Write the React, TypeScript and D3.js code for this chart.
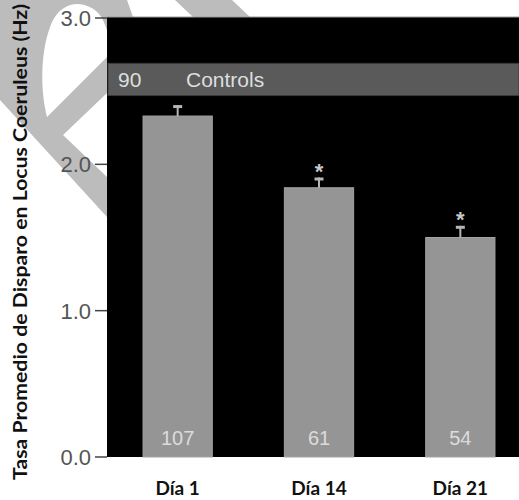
import React from "react";
import * as d3 from "d3";

const categories = ["Día 1", "Día 14", "Día 21"];
const meanRate = [2.33, 1.84, 1.5];
const semRate = [0.075, 0.07, 0.08];
const cellCounts = ["107", "61", "54"];
const significant = [false, true, true];
const controlBand = { low: 2.47, high: 2.69, n: "90", label: "Controls" };
const yTicks = [0, 1, 2, 3];
const yLabel = "Tasa Promedio de Disparo en Locus Coeruleus (Hz)";

const W = 519;
const H = 500;
const plotLeft = 107;
const plotRight = 519;
const plotTop = 17;
const plotBottom = 457;

export default function App() {
  const y = d3.scaleLinear().domain([0, 3]).range([plotBottom, 18]);
  const x = d3
    .scaleBand<string>()
    .domain(categories)
    .range([plotLeft, 531])
    .paddingInner(0.51)
    .paddingOuter(0.255);
  const bw = x.bandwidth();
  const wm = "#bcbcbc";
  const bandMid = (y(controlBand.high) + y(controlBand.low)) / 2;

  return (
    <svg
      width={W}
      height={H}
      style={{ position: "absolute", left: 0, top: 0, background: "#fff" }}
    >
      {/* watermark shapes */}
      <polygon
        points="0,0 127,0 133,17 107,17 107,93 63,135 107,177 107,217 0,100"
        fill={wm}
      />
      <path
        d="M47,117 C40,90 40,50 52,22 C58,10 66,5 76,4 C88,4 98,10 103,20 L107,30 L107,57 Z"
        fill="#fff"
      />
      <polygon points="175,0 232,0 250,17 193,17" fill={wm} />

      {/* plot background */}
      <rect
        x={plotLeft}
        y={plotTop}
        width={plotRight - plotLeft}
        height={plotBottom - plotTop}
        fill="#000"
      />
      <line x1={plotLeft} x2={plotRight} y1={plotTop} y2={plotTop} stroke="#9a9a9a" strokeWidth={1} />

      {/* control band */}
      <rect
        x={plotLeft + 1}
        y={y(controlBand.high)}
        width={plotRight - plotLeft - 1}
        height={y(controlBand.low) - y(controlBand.high)}
        fill="#5a5a5a"
        stroke="#3a3a3a"
        strokeWidth={1}
      />
      <text
        x={118}
        y={bandMid + 7.5}
        fill="#dedede"
        fontFamily="Liberation Sans, Arial, sans-serif"
        fontSize={21}
      >
        {controlBand.n}
      </text>
      <text
        x={186}
        y={bandMid + 7.5}
        fill="#dedede"
        fontFamily="Liberation Sans, Arial, sans-serif"
        fontSize={21}
      >
        {controlBand.label}
      </text>

      {/* bars */}
      {categories.map((c, i) => {
        const x0 = x(c)!;
        const cx = x0 + bw / 2;
        const top = y(meanRate[i]);
        const errTop = y(meanRate[i] + semRate[i]);
        return (
          <g key={c}>
            <rect
              x={x0}
              y={top}
              width={bw}
              height={plotBottom - top}
              fill="#959595"
              stroke="#a3a3a3"
              strokeWidth={1}
            />
            <line x1={cx} x2={cx} y1={errTop} y2={top} stroke="#b5b5b5" strokeWidth={2} />
            <line x1={cx - 4.5} x2={cx + 4.5} y1={errTop + 1.5} y2={errTop + 1.5} stroke="#b5b5b5" strokeWidth={3} />
            {significant[i] && (
              <text
                x={cx}
                y={errTop + 1}
                textAnchor="middle"
                fill="#c8c8c8"
                fontFamily="Liberation Sans, Arial, sans-serif"
                fontWeight="bold"
                fontSize={22}
              >
                *
              </text>
            )}
            <text
              x={cx}
              y={445}
              textAnchor="middle"
              fill="#dcdcdc"
              fontFamily="Liberation Sans, Arial, sans-serif"
              fontSize={20}
            >
              {cellCounts[i]}
            </text>
            <text
              x={cx}
              y={495}
              textAnchor="middle"
              fill="#111"
              fontFamily="Lato, sans-serif"
              fontWeight="bold"
              fontSize={19}
            >
              {c}
            </text>
          </g>
        );
      })}

      {/* y axis ticks */}
      {yTicks.map((t) => (
        <g key={t}>
          <line x1={95} x2={plotLeft} y1={y(t)} y2={y(t)} stroke="#444" strokeWidth={1.5} />
          <text
            x={91}
            y={y(t) + 8}
            textAnchor="end"
            fill="#555"
            fontFamily="Liberation Sans, Arial, sans-serif"
            fontSize={22}
          >
            {d3.format(".1f")(t)}
          </text>
        </g>
      ))}

      {/* y label */}
      <text
        transform={`translate(27,242) rotate(-90)`}
        textAnchor="middle"
        fill="#111"
        fontFamily="Lato, sans-serif"
        fontWeight="bold"
        fontSize={18}
        textLength={476}
        lengthAdjust="spacingAndGlyphs"
      >
        {yLabel}
      </text>
    </svg>
  );
}
